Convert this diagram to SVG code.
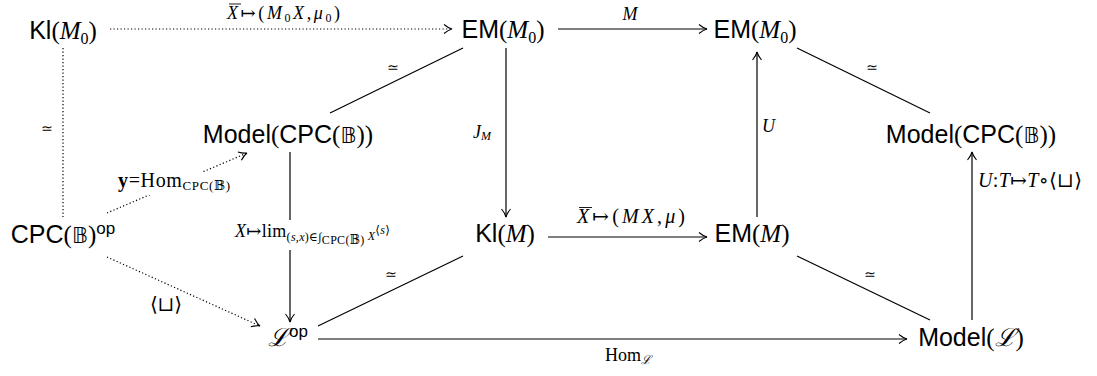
<svg xmlns="http://www.w3.org/2000/svg" width="1097" height="376" viewBox="0 0 1097 376">
<style>
.n{font-family:"Liberation Sans","DejaVu Sans",sans-serif;font-size:25px;fill:#000}
.p{font-family:"Liberation Serif","DejaVu Serif",serif}
.mi{font-family:"Liberation Serif","DejaVu Serif",serif;font-style:italic}
.bb{font-family:"DejaVu Sans",sans-serif;font-size:22px}
.sc{font-family:"DejaVu Serif",serif;font-style:italic}
.l{font-family:"Liberation Serif","DejaVu Serif",serif;font-size:18px;fill:#000}
.big{font-size:20px}
.iso{font-family:"DejaVu Sans",sans-serif;font-size:14px;fill:#000}
.c{fill:none;stroke:#000;stroke-width:1.2}
.d{fill:none;stroke:#000;stroke-width:1.2;stroke-dasharray:1.2 2.3}
.a{marker-end:url(#ah)}
.bar{stroke:#000;stroke-width:0.9}
</style>
<defs>
<marker id="ah" viewBox="-9 -6 10 12" refX="0" refY="0" markerWidth="10" markerHeight="12" markerUnits="userSpaceOnUse" orient="auto">
<path d="M-8,-4.5 C-5,-2 -2,-0.5 0,0 C-2,0.5 -5,2 -8,4.5" fill="none" stroke="#000" stroke-width="1.1" stroke-dasharray="none"/>
</marker>
</defs>
<rect width="1097" height="376" fill="#fff"/>

<g id="connectors">
<path class="d a" d="M110,29 H452"/>
<path class="c a" d="M558,29 H707"/>
<path class="c" d="M463,48 L330,113"/>
<path class="c a" d="M506,48 V217"/>
<path class="c" d="M797,48 L930,113"/>
<path class="c a" d="M757,217 V52"/>
<path class="d" d="M63,48 V217"/>
<path class="d a" d="M107,213 L247,153"/>
<path class="d a" d="M107,257 L260,326"/>
<path class="c a" d="M290,152 V322"/>
<path class="c a" d="M548,237 H707"/>
<path class="c" d="M463,256 L318,326"/>
<path class="c" d="M797,256 L930,320"/>
<path class="c a" d="M318,339 H907"/>
<path class="c a" d="M972,320 V152"/>
</g>

<g id="labels">
<text class="l" x="227" y="19" font-size="19" textLength="113"><tspan class="mi">X</tspan>↦(<tspan class="mi">M</tspan><tspan font-size="12" dy="3">0</tspan><tspan class="mi" dy="-3">X</tspan>,<tspan class="mi">μ</tspan><tspan font-size="12" dy="3">0</tspan><tspan dy="-3">)</tspan></text>
<line class="bar" x1="229" y1="4" x2="241" y2="4"/>
<text class="l mi" x="630" y="20" text-anchor="middle">M</text>
<text class="iso" x="393" y="72" text-anchor="middle">≃</text>
<text class="iso" x="872" y="72" text-anchor="middle">≃</text>
<text class="iso" x="47" y="133" text-anchor="middle">≃</text>
<text class="iso" x="391" y="279" text-anchor="middle">≃</text>
<text class="iso" x="870" y="279" text-anchor="middle">≃</text>
<text class="l" x="473" y="138"><tspan class="mi">J</tspan><tspan class="mi" font-size="12" dy="2">M</tspan></text>
<text class="l mi" x="762" y="132">U</text>
<rect x="116" y="172" width="118" height="23" fill="#fff"/>
<text class="l big" x="118" y="187" textLength="112"><tspan font-weight="bold">y</tspan>=Hom<tspan font-size="13" dy="3">CPC(𝔹)</tspan></text>
<rect x="232" y="220" width="161" height="30" fill="#fff"/>
<text class="l" x="235" y="237" textLength="155"><tspan class="mi">X</tspan>↦lim<tspan font-size="12" dy="4">(<tspan class="mi">s</tspan>,<tspan class="mi">x</tspan>)∈∫</tspan><tspan font-size="12" dy="3">CPC(𝔹)</tspan><tspan class="mi" font-size="12" dy="-4"> X</tspan><tspan font-size="12" dy="-6">⟨<tspan class="mi">s</tspan>⟩</tspan></text>
<text class="l big" x="577" y="223" textLength="108"><tspan class="mi">X</tspan>↦(<tspan class="mi">MX</tspan>,<tspan class="mi">μ</tspan>)</text>
<line class="bar" x1="579" y1="207.5" x2="592" y2="207.5"/>
<text class="l big" x="978" y="187" textLength="104"><tspan class="mi">U</tspan>:<tspan class="mi">T</tspan>↦<tspan class="mi">T</tspan>∘⟨⊔⟩</text>
<text class="l big" x="150" y="311" textLength="32">⟨⊔⟩</text>
<text class="l" x="605" y="361">Hom<tspan class="sc" font-size="12" dy="3">ℒ</tspan></text>
</g>

<g id="kl-m0"><text class="n" x="63" y="39" text-anchor="middle">Kl<tspan class="p">(</tspan><tspan class="mi">M</tspan><tspan class="p" font-size="16" dy="5">0</tspan><tspan class="p" dy="-5">)</tspan></text></g>
<g id="em-m0-a"><text class="n" x="503" y="38" text-anchor="middle">EM<tspan class="p">(</tspan><tspan class="mi">M</tspan><tspan class="p" font-size="16" dy="5">0</tspan><tspan class="p" dy="-5">)</tspan></text></g>
<g id="em-m0-b"><text class="n" x="755" y="38" text-anchor="middle">EM<tspan class="p">(</tspan><tspan class="mi">M</tspan><tspan class="p" font-size="16" dy="5">0</tspan><tspan class="p" dy="-5">)</tspan></text></g>
<g id="model-cpc-a"><text class="n" x="288" y="143" text-anchor="middle">Model<tspan class="p">(</tspan>CPC<tspan class="p">(</tspan><tspan class="bb">𝔹</tspan><tspan class="p">))</tspan></text></g>
<g id="model-cpc-b"><text class="n" x="971" y="143" text-anchor="middle">Model<tspan class="p">(</tspan>CPC<tspan class="p">(</tspan><tspan class="bb">𝔹</tspan><tspan class="p">))</tspan></text></g>
<g id="cpc-op"><text class="n" x="63" y="243" text-anchor="middle">CPC<tspan class="p">(</tspan><tspan class="bb">𝔹</tspan><tspan class="p">)</tspan><tspan font-size="17" dy="-9">op</tspan></text></g>
<g id="kl-m"><text class="n" x="505" y="242" text-anchor="middle">Kl<tspan class="p">(</tspan><tspan class="mi">M</tspan><tspan class="p">)</tspan></text></g>
<g id="em-m"><text class="n" x="752" y="242" text-anchor="middle">EM<tspan class="p">(</tspan><tspan class="mi">M</tspan><tspan class="p">)</tspan></text></g>
<g id="l-op"><text class="n" x="288" y="346" text-anchor="middle"><tspan class="sc">ℒ</tspan><tspan font-size="17" dy="-9">op</tspan></text></g>
<g id="model-l"><text class="n" x="971" y="346" text-anchor="middle">Model<tspan class="p">(</tspan><tspan class="sc">ℒ</tspan><tspan class="p">)</tspan></text></g>
</svg>
